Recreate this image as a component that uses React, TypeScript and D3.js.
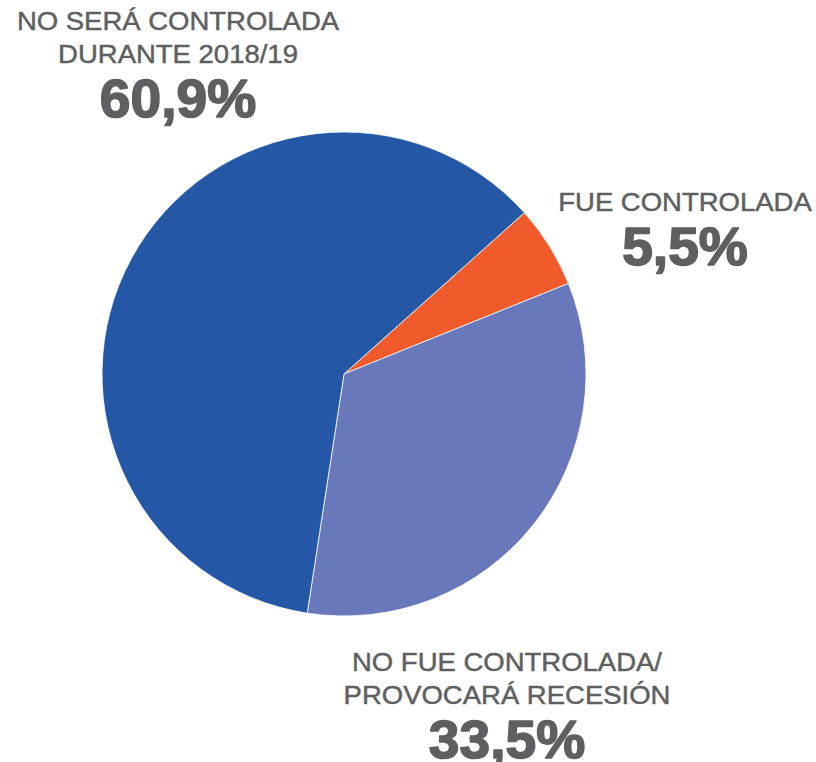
import React from 'react';
import * as d3 from 'd3';

// slices, clockwise from the orange one
const categories = ['FUE CONTROLADA', 'NO FUE CONTROLADA/ PROVOCARÁ RECESIÓN', 'NO SERÁ CONTROLADA DURANTE 2018/19'];
const values = [5.5, 33.5, 60.9];
const labelLines = [
  ['FUE CONTROLADA'],
  ['NO FUE CONTROLADA/', 'PROVOCARÁ RECESIÓN'],
  ['NO SERÁ CONTROLADA', 'DURANTE 2018/19'],
];
const valueLabels = ['5,5%', '33,5%', '60,9%'];
const colors = ['#f15a2a', '#6977bb', '#2458a6'];

const width = 816;
const height = 762;
const cx = 344;
const cy = 374;
const radius = 242;
const startDeg = 48.2;

// where each label block sits (center x, first line baseline)
const labelPos = [
  { x: 685, y: 211 },
  { x: 507, y: 671 },
  { x: 178, y: 30 },
];

const textColor = '#5e5f61';
const font = '"Liberation Sans", Arial, Helvetica, sans-serif';

const App = () => {
  const start = (startDeg * Math.PI) / 180;
  const pie = d3
    .pie<number>()
    .sort(null)
    .value(d => d)
    .startAngle(start)
    .endAngle(start + 2 * Math.PI);
  const arcs = pie(values);
  const arc = d3.arc<d3.PieArcDatum<number>>().innerRadius(0).outerRadius(radius);

  return (
    <div style={{ position: 'absolute', left: 0, top: 0 }}>
      <svg width={width} height={height} viewBox={`0 0 ${width} ${height}`} style={{ display: 'block' }}>
        <rect width={width} height={height} fill="#ffffff" />
        <g transform={`translate(${cx},${cy})`}>
          {arcs.map((a, i) => (
            <path key={categories[i]} d={arc(a) || ''} fill={colors[i]} stroke="#ffffff" strokeWidth={0.8} />
          ))}
        </g>
        {labelLines.map((lines, i) => {
          const p = labelPos[i];
          const lastBase = p.y + (lines.length - 1) * 33;
          return (
            <g key={categories[i]} fill={textColor} stroke={textColor} fontFamily={font} textAnchor="middle">
              {lines.map((t, j) => (
                <text
                  key={t}
                  transform={`translate(${p.x},${p.y + j * 33}) scale(1.1,1)`}
                  fontSize={25}
                  strokeWidth={0.45}
                >
                  {t}
                </text>
              ))}
              <text
                transform={`translate(${p.x},${lastBase + 54}) scale(1.04,1)`}
                fontSize={53}
                fontWeight={700}
                strokeWidth={1.6}
                strokeLinejoin="round"
              >
                {valueLabels[i]}
              </text>
            </g>
          );
        })}
      </svg>
    </div>
  );
};

export default App;
